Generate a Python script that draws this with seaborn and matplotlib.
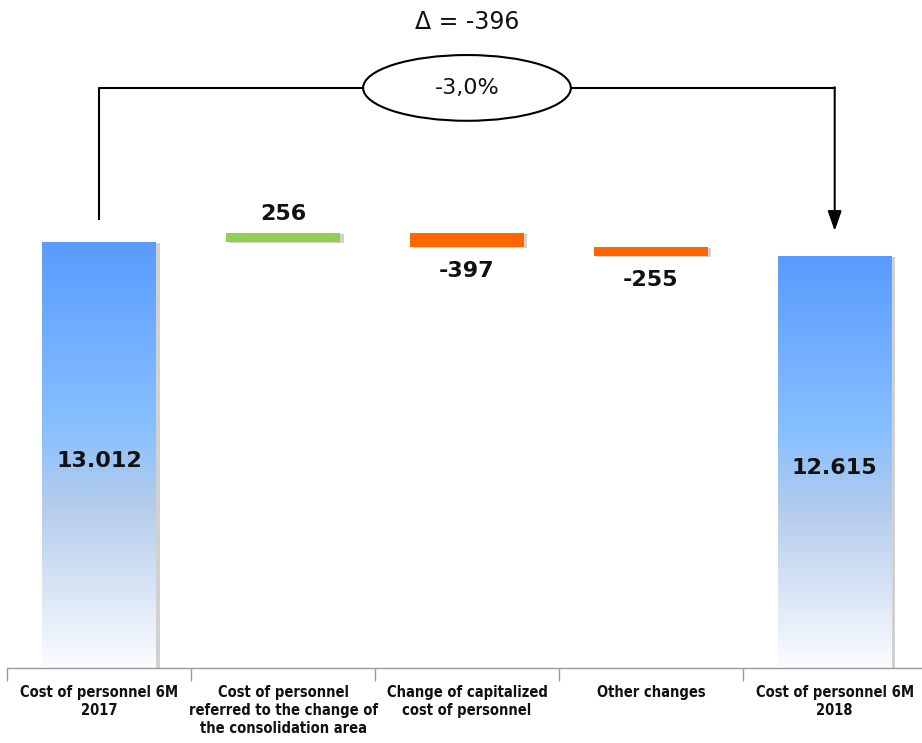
import numpy as np
import pandas as pd
import matplotlib
matplotlib.use("Agg")
import matplotlib.pyplot as plt
import matplotlib.patheffects as pe
from matplotlib.patches import Ellipse, FancyArrowPatch
from matplotlib.colors import LinearSegmentedColormap
import seaborn as sns

# --- data -------------------------------------------------------------
categories = [
    "Cost of personnel 6M\n2017",
    "Cost of personnel\nreferred to the change of\nthe consolidation area",
    "Change of capitalized\ncost of personnel",
    "Other changes",
    "Cost of personnel 6M\n2018",
]
values = [13012, 256, -397, -255, 12615]
kinds = ["total", "delta", "delta", "delta", "total"]
value_labels = ["13.012", "256", "-397", "-255", "12.615"]
delta_label = "\u0394 = -396"
pct_label = "-3,0%"

# --- waterfall geometry ---------------------------------------------
y_floor = 700
lows, highs = [], []
running = 0
for v, k in zip(values, kinds):
    if k == "total":
        lows.append(y_floor)
        highs.append(v)
        running = v
    else:
        start = running
        running = running + v
        lows.append(min(start, running))
        highs.append(max(start, running))

df = pd.DataFrame({"category": categories, "low": lows, "high": highs,
                   "kind": kinds, "value": values})
df["span"] = df["high"] - df["low"]

bar_colors = []
for v, k in zip(values, kinds):
    if k == "total":
        bar_colors.append("white")
    elif v >= 0:
        bar_colors.append("#92D050")
    else:
        bar_colors.append("#FF6600")

sns.set_theme(style="white")
plt.rcParams["font.family"] = ["DejaVu Sans"]

fig = plt.figure(figsize=(9.22, 7.43), dpi=100)
ax = fig.add_axes([0.008, 0.101, 0.997, 0.899])

sns.barplot(data=df, x="category", y="span", hue="category",
            palette=bar_colors, legend=False, width=0.62, ax=ax,
            saturation=1, linewidth=0)

ax.set_xlim(-0.5, 4.5)
ax.set_ylim(y_floor, 20000)

shadow = [pe.SimplePatchShadow(offset=(2.5, -1.0), shadow_rgbFace="#9a9a9a",
                               alpha=0.45), pe.Normal()]

grad = LinearSegmentedColormap.from_list(
    "bluefade",
    [(0.0, "#5A9BFE"), (0.42, "#86BFFF"), (0.62, "#B4CCEB"), (1.0, "#FBFCFE")])
grad_img = np.linspace(0, 1, 256).reshape(-1, 1)

for patch, lo, k in zip(ax.patches, df["low"], df["kind"]):
    patch.set_y(lo)
    patch.set_path_effects(shadow)
    if k == "total":
        x0 = patch.get_x()
        w = patch.get_width()
        im = ax.imshow(grad_img, cmap=grad, aspect="auto",
                       extent=(x0, x0 + w, patch.get_y(),
                               patch.get_y() + patch.get_height()),
                       origin="upper", zorder=patch.get_zorder() + 0.1,
                       interpolation="bicubic")
        im.set_clip_path(patch)

# restore limits after imshow
ax.set_xlim(-0.5, 4.5)
ax.set_ylim(y_floor, 20000)

# value labels
for i, (lab, k, v, lo, hi) in enumerate(zip(value_labels, kinds, values,
                                            df["low"], df["high"])):
    if k == "total":
        y = lo + (hi - lo) * 0.485
        va = "center"
    elif v >= 0:
        y = hi + 250
        va = "bottom"
    else:
        y = lo - 420
        va = "top"
    ax.text(i, y, lab, ha="center", va=va, fontsize=16, fontweight="bold",
            color="#111111", zorder=5)

# bracket with ellipse and arrow
bracket_y = 17460
ax.plot([0, 0, 2 - 0.565], [13650, bracket_y, bracket_y], color="black",
        lw=1.5, solid_capstyle="butt", zorder=4)
ax.plot([2 + 0.565, 4], [bracket_y, bracket_y], color="black", lw=1.5,
        zorder=4)
arrow = FancyArrowPatch((4, bracket_y + 20), (4, highs[1] + 60),
                        arrowstyle="-|>,head_length=1.2,head_width=0.42",
                        mutation_scale=10, color="black",
                        lw=1.5, shrinkA=0, shrinkB=0, zorder=4)
ax.add_patch(arrow)
ax.add_patch(Ellipse((2, bracket_y), width=1.13, height=1900,
                     facecolor="white", edgecolor="black", lw=1.5, zorder=4))
ax.text(2, bracket_y, pct_label, ha="center", va="center", fontsize=16,
        color="#111111", zorder=5)
ax.text(2, 19350, delta_label, ha="center", va="center", fontsize=17,
        color="#111111", zorder=5)

# axis styling
for s in ["left", "right", "top"]:
    ax.spines[s].set_visible(False)
ax.spines["bottom"].set_color("#9a9a9a")
ax.spines["bottom"].set_linewidth(1.0)
ax.set_yticks([])
ax.set_xlabel("")
ax.set_ylabel("")
ax.set_xticks(np.arange(-0.5, 5.0, 1.0), minor=True)
ax.tick_params(axis="x", which="minor", length=9, color="#9a9a9a", width=1,
               bottom=True)
ax.tick_params(axis="x", which="major", length=0, pad=12)
ax.set_xticks(range(len(categories)))
ax.set_xticklabels(categories, fontsize=10.5, fontweight="bold",
                   fontstretch="condensed", linespacing=1.25, va="top",
                   color="#111111")

fig.savefig("out.png", dpi=100)
